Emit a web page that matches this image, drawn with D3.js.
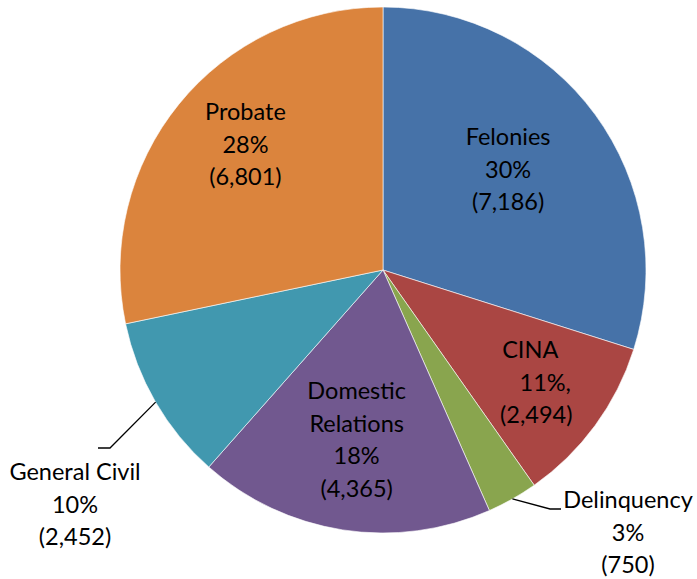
<!DOCTYPE html>
<html lang="en">
<head>
<meta charset="UTF-8">
<title>Caseload pie</title>
<script src="https://d3js.org/d3.v7.min.js"></script>
<style>
  body { margin: 0; background: #fff; }
  svg text { font-family: Lato, "Open Sans", sans-serif; font-size: 23.5px; fill: #000; }
</style>
</head>
<body>
<svg id="chart" width="697" height="579"></svg>
<script>
// data
const categories = ["Felonies", "CINA", "Delinquency", "Domestic Relations", "General Civil", "Probate"];
const values = [7186, 2494, 750, 4365, 2452, 6801];
const percentLabels = ["30%", "11%,", "3%", "18%", "10%", "28%"];
const nameLines = [["Felonies"], ["CINA"], ["Delinquency"], ["Domestic", "Relations"], ["General Civil"], ["Probate"]];
const colors = ["#4672A8", "#AA4643", "#89A54E", "#71588F", "#4198AF", "#DB843D"];

// label layout: inside labels sit on the mid angle at radius r; outside ones get a leader line
const labelLayout = [
  { r: 160, dx: -4, dy: -6 },
  { r: 190, dx: 0, dy: 0, lineDx: [-6, 9, 0] },
  { outside: true, elbow: [550, 509], end: [561, 509], text: [628, 500] },
  { r: 172, dx: 0, dy: 0 },
  { outside: true, elbow: [110, 448], end: [98, 448], text: [75, 472] },
  { r: 185, dx: 6, dy: -9 }
];

const cx = 383, cy = 270, radius = 263, lineH = 32.5;

const svg = d3.select("#chart");
const g = svg.append("g").attr("transform", `translate(${cx},${cy})`);

const pie = d3.pie().sort(null).value(d => d)(values);
const arc = d3.arc().innerRadius(0).outerRadius(radius);

g.selectAll("path.slice")
  .data(pie)
  .enter().append("path")
  .attr("class", "slice")
  .attr("d", arc)
  .attr("fill", (d, i) => colors[i])
  .attr("stroke", "#ffffff")
  .attr("stroke-opacity", 0.6)
  .attr("stroke-width", 1);

const fmt = d3.format(",");

pie.forEach((d, i) => {
  const lay = labelLayout[i];
  const mid = (d.startAngle + d.endAngle) / 2;
  const lines = nameLines[i].concat([percentLabels[i], "(" + fmt(values[i]) + ")"]);
  let x, y;
  if (lay.outside) {
    const sx = Math.sin(mid) * radius, sy = -Math.cos(mid) * radius;
    g.append("polyline")
      .attr("points", [[sx, sy], [lay.elbow[0] - cx, lay.elbow[1] - cy], [lay.end[0] - cx, lay.end[1] - cy]].map(p => p.join(",")).join(" "))
      .attr("fill", "none")
      .attr("stroke", "#000")
      .attr("stroke-width", 1.3);
    x = lay.text[0] - cx;
    y = lay.text[1] - cy;
  } else {
    x = Math.sin(mid) * lay.r + lay.dx;
    y = -Math.cos(mid) * lay.r + lay.dy - (lines.length - 1) * lineH / 2;
  }
  const t = g.append("text").attr("text-anchor", "middle");
  lines.forEach((ln, j) => {
    t.append("tspan")
      .attr("x", x + (lay.lineDx ? lay.lineDx[j] : 0))
      .attr("y", y + j * lineH)
      .attr("dy", "0.35em")
      .text(ln);
  });
});
</script>
</body>
</html>
